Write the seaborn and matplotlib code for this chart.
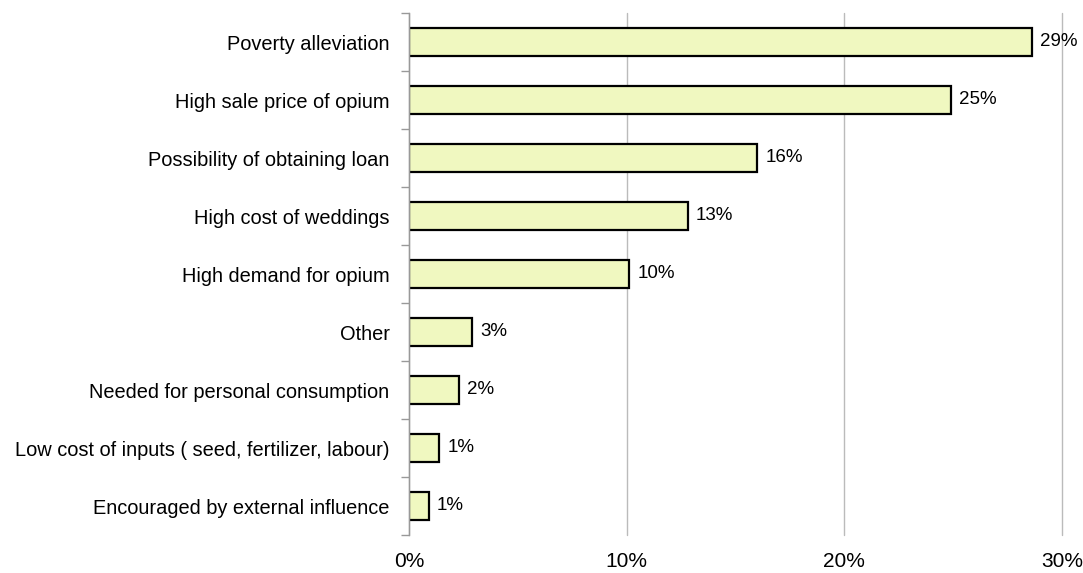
import numpy as np
import pandas as pd
import matplotlib
matplotlib.use('Agg')
import matplotlib.pyplot as plt
from matplotlib.ticker import FixedLocator
import seaborn as sns

'''DATA'''
reasons = ['Poverty alleviation', 'High sale price of opium', 'Possibility of obtaining loan',
           'High cost of weddings', 'High demand for opium', 'Other',
           'Needed for personal consumption', 'Low cost of inputs ( seed, fertilizer, labour)',
           'Encouraged by external influence']
shares = [28.6, 24.9, 16.0, 12.8, 10.1, 2.9, 2.3, 1.4, 0.9]
share_labels = ['29%', '25%', '16%', '13%', '10%', '3%', '2%', '1%', '1%']
xticks = [0, 10, 20, 30]

df = pd.DataFrame({'reason': reasons, 'share': shares})

sns.set_style('white')
plt.rcParams['font.family'] = ['Liberation Sans', 'DejaVu Sans']
plt.rcParams['text.color'] = 'black'
plt.rcParams['xtick.color'] = 'black'
plt.rcParams['ytick.color'] = 'black'

fig = plt.figure(figsize=(10.83, 5.73), dpi=100)
ax = fig.add_axes([409/1083, 1 - 535/573, (1062-409)/1083, (535-13)/573])

sns.barplot(data=df, x='share', y='reason', orient='h', color='#F0F8C0',
            edgecolor='black', linewidth=1.6, width=0.48, saturation=1, ax=ax)

ax.set_xlim(0, 30)
ax.set_ylim(len(reasons) - 0.5, -0.5)
ax.set_xticks(xticks)
ax.set_xticklabels([f'{t}%' for t in xticks], fontsize=15)
ax.tick_params(axis='x', length=0, pad=12, labelcolor='black')
ax.tick_params(axis='y', which='major', left=False, length=0, pad=14, labelsize=14.4,
               labelcolor='black')
ax.yaxis.set_minor_locator(FixedLocator(np.arange(-0.5, len(reasons), 1)))
ax.tick_params(axis='y', which='minor', left=True, length=6, color='#999999', width=1)
ax.xaxis.grid(True, color='#BBBBBB', linewidth=1)
for gl in ax.get_xgridlines():
    gl.set_clip_on(False)
ax.set_axisbelow(True)
ax.set_xlabel('')
ax.set_ylabel('')
for s in ['top', 'right', 'bottom']:
    ax.spines[s].set_visible(False)
ax.spines['left'].set_color('#999999')
ax.spines['left'].set_linewidth(1)

for container in ax.containers:
    ax.bar_label(container, labels=share_labels, padding=6, fontsize=13.5, color='black')

fig.savefig('out.png', dpi=100)
